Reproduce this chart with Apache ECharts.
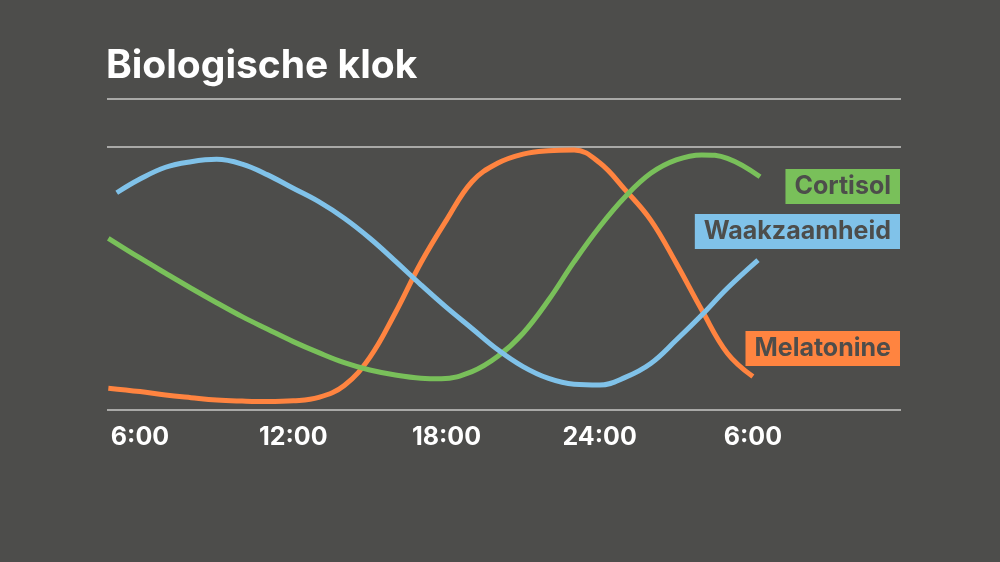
<!DOCTYPE html>
<html>
<head>
<meta charset="utf-8">
<script src="https://cdn.jsdelivr.net/npm/echarts@6/dist/echarts.min.js"></script>
<style>
  html, body { margin: 0; padding: 0; background: #4d4d4b; }
  #main { width: 1000px; height: 562px; }
</style>
</head>
<body>
<div id="main"></div>
<script>
// uren (6:00 tot 6:00 de volgende dag, 24:00 = 24, 6:00 = 30)
const tickHours = [6, 12, 18, 24, 30]
const tickLabels = ['6:00', '12:00', '18:00', '24:00', '6:00']

// Melatonine
const melaHours = [4.76, 6, 7, 8, 9, 10, 11, 12, 13, 14, 15, 16, 17, 18, 19, 20, 21, 22, 23, 24, 25, 26, 27, 28, 29, 30]
const melaValues = [8.3, 7, 5.7, 4.7, 3.8, 3.4, 3.2, 3.5, 4.8, 9.3, 20, 37, 56, 72.2, 86.8, 93.8, 97.3, 98.6, 98.9, 94, 83.7, 72.2, 55.8, 38, 21.6, 12.7]

// Cortisol
const cortHours = [4.76, 6, 7, 8, 9, 10, 11, 12, 13, 14, 15, 16, 17, 17.8, 19, 20, 21, 22, 23, 24, 25, 26, 27, 28, 29, 30.28]
const cortValues = [65.3, 57.8, 52, 46.3, 40.8, 35.5, 30.7, 26, 21.8, 18, 15.2, 13.3, 12.1, 11.9, 14.6, 20.3, 29.2, 41.8, 56.4, 69.7, 81.1, 90, 95.1, 97, 95.7, 88.7]

// Waakzaamheid
const waakHours = [5.09, 6, 7, 8, 9, 10, 11, 12, 13, 14, 15, 16, 17, 18, 19, 20, 21, 22, 23, 24, 25, 26, 27, 28, 29, 30.2]
const waakValues = [82.6, 87.8, 92.3, 94.4, 95.3, 93.5, 89.4, 84.3, 79.2, 72.9, 65.3, 56.6, 47.6, 39, 31, 23, 16.5, 12, 9.8, 9.5, 12.4, 17.7, 26.6, 36.1, 46.3, 57]

function pairs (xs, ys) {
  return xs.map((x, i) => [x, ys[i]])
}

let mychart = echarts.init(document.getElementById('main'))

// labels rechts naast de lijnen
function boxLabel (text, color, top) {
  return {
    text: text,
    right: 100,
    top: top,
    backgroundColor: color,
    padding: [5, 9, 5, 9],
    textStyle: {
      color: '#4d4d4b',
      fontFamily: 'Inter',
      fontWeight: 700,
      fontSize: 25,
      lineHeight: 25
    }
  }
}

let option = {
  backgroundColor: '#4d4d4b',
  animation: false,
  title: [
    {
      text: 'Biologische klok',
      left: 101,
      top: 42,
      textStyle: {
        color: '#ffffff',
        fontFamily: 'Inter',
        fontWeight: 700,
        fontSize: 39
      }
    },
    boxLabel('Cortisol', '#79c05a', 169),
    boxLabel('Waakzaamheid', '#80c2e9', 214),
    boxLabel('Melatonine', '#ff8440', 331)
  ],
  // lijn onder de titel
  graphic: [
    {
      type: 'line',
      shape: { x1: 107, y1: 99, x2: 901, y2: 99 },
      style: { stroke: '#c8c8c6', lineWidth: 1.5 }
    }
  ],
  grid: {
    left: 107,
    right: 99,
    top: 147,
    bottom: 152
  },
  xAxis: {
    type: 'value',
    min: 4.708,
    max: 35.8,
    axisLine: { show: false },
    axisTick: { show: false },
    splitLine: { show: false },
    axisLabel: {
      customValues: tickHours,
      formatter: function (v) {
        return tickLabels[tickHours.indexOf(v)]
      },
      color: '#ffffff',
      fontFamily: 'Inter',
      fontWeight: 700,
      fontSize: 25,
      margin: 15
    }
  },
  yAxis: {
    type: 'value',
    min: 0,
    max: 100,
    interval: 100,
    axisLine: { show: false },
    axisTick: { show: false },
    axisLabel: { show: false },
    splitLine: {
      lineStyle: { color: '#c8c8c6', width: 1.5 }
    }
  },
  series: [
    {
      name: 'Melatonine',
      type: 'line',
      data: pairs(melaHours, melaValues),
      smooth: 0.4,
      symbol: 'none',
      lineStyle: { color: '#ff8440', width: 5, cap: 'butt' }
    },
    {
      name: 'Cortisol',
      type: 'line',
      data: pairs(cortHours, cortValues),
      smooth: 0.4,
      symbol: 'none',
      lineStyle: { color: '#79c05a', width: 5, cap: 'butt' }
    },
    {
      name: 'Waakzaamheid',
      type: 'line',
      data: pairs(waakHours, waakValues),
      smooth: 0.4,
      symbol: 'none',
      lineStyle: { color: '#80c2e9', width: 5, cap: 'butt' }
    }
  ]
}

mychart.setOption(option)
</script>
</body>
</html>
